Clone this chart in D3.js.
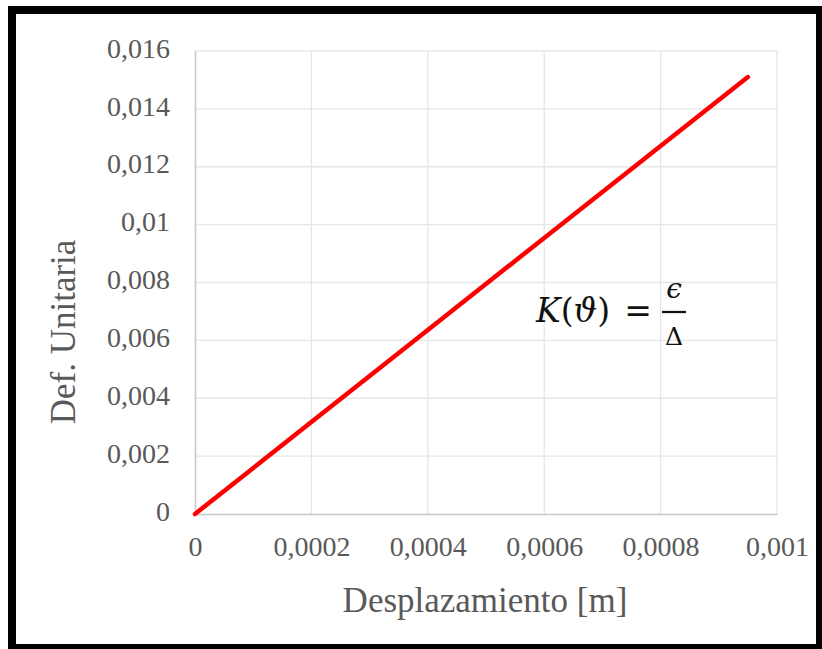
<!DOCTYPE html>
<html>
<head>
<meta charset="utf-8">
<script src="https://cdn.jsdelivr.net/npm/d3@7"></script>
<style>
  body { margin: 0; background: #fff; }
  svg { display: block; }
</style>
</head>
<body>
<svg id="chart" width="822" height="649"></svg>
<script>
// values
const desplazamiento = [0, 0.0002, 0.0004, 0.0006, 0.0008, 0.00095];
const defUnitaria = [0, 0.00318, 0.00636, 0.00954, 0.01272, 0.0151];
const xTicks = [0, 0.0002, 0.0004, 0.0006, 0.0008, 0.001];
const yTicks = [0, 0.002, 0.004, 0.006, 0.008, 0.01, 0.012, 0.014, 0.016];
const xTitle = "Desplazamiento [m]";
const yTitle = "Def. Unitaria";

const svg = d3.select("#chart");
const margin = {left: 195, right: 45, top: 51, bottom: 135};
const width = 822 - margin.left - margin.right;
const height = 649 - margin.top - margin.bottom;
const serif = "'Liberation Serif', 'Times New Roman', serif";
const grey = "#595959";

// comma decimals, like the original
const fmt = v => String(+v.toFixed(5)).replace(".", ",");

let x = d3.scaleLinear().domain([0, 0.001]).range([0, width]);
let y = d3.scaleLinear().domain([0, 0.016]).range([height, 0]);

const g = svg.append("g")
  .attr("transform", "translate(" + margin.left + "," + margin.top + ")");

// grid
g.append("g")
  .attr("class", "grid")
  .selectAll("line.h")
  .data(yTicks.slice(1))
  .enter().append("line")
  .attr("x1", 0).attr("x2", width)
  .attr("y1", d => y(d)).attr("y2", d => y(d))
  .attr("stroke", "#e6e6e6").attr("stroke-width", 1.3);

g.append("g")
  .attr("class", "grid")
  .selectAll("line.v")
  .data(xTicks.slice(1))
  .enter().append("line")
  .attr("x1", d => x(d)).attr("x2", d => x(d))
  .attr("y1", 0).attr("y2", height)
  .attr("stroke", "#e6e6e6").attr("stroke-width", 1.3);

// axes
let xAxis = d3.axisBottom(x).tickValues(xTicks).tickFormat(fmt).tickSize(0);
let yAxis = d3.axisLeft(y).tickValues(yTicks).tickFormat(fmt).tickSize(0);

const gx = g.append("g")
  .attr("class", "x axis")
  .attr("transform", "translate(0," + height + ")")
  .call(xAxis);
gx.select(".domain").attr("stroke", "#c8c8c8").attr("stroke-width", 1.6);
gx.selectAll("text")
  .attr("y", 42).attr("dy", 0)
  .style("font-family", serif).style("font-size", "28px").attr("fill", grey);

const gy = g.append("g")
  .attr("class", "y axis")
  .call(yAxis);
gy.select(".domain").attr("stroke", "#c8c8c8").attr("stroke-width", 1.6);
gy.selectAll("text")
  .attr("x", -25).attr("dy", "0.22em")
  .style("font-family", serif).style("font-size", "28px").attr("fill", grey);

// titles
svg.append("text")
  .attr("x", 485).attr("y", 612)
  .attr("text-anchor", "middle")
  .style("font-family", serif).style("font-size", "35px")
  .attr("fill", grey)
  .text(xTitle);

svg.append("text")
  .attr("transform", "translate(75,332) rotate(-90)")
  .attr("text-anchor", "middle")
  .style("font-family", serif).style("font-size", "35px")
  .attr("fill", grey)
  .text(yTitle);

// the line
const line = d3.line()
  .x((d, i) => x(desplazamiento[i]))
  .y(d => y(d));

g.append("path")
  .datum(defUnitaria)
  .attr("fill", "none")
  .attr("stroke", "#ff0000")
  .attr("stroke-width", 4.5)
  .attr("stroke-linecap", "round")
  .attr("d", line);

// formula  K(ϑ) = ε / Δ
const eq = svg.append("g").attr("class", "formula")
  .style("font-family", "'DejaVu Serif', serif").attr("fill", "#111");
eq.append("text")
  .attr("x", 536).attr("y", 322)
  .style("font-size", "33px")
  .html('<tspan font-style="italic">K</tspan>(<tspan font-style="italic">ϑ</tspan>)');
eq.append("text")
  .attr("x", 638).attr("y", 322)
  .attr("text-anchor", "middle")
  .style("font-size", "33px")
  .text("=");
eq.append("line")
  .attr("x1", 662).attr("x2", 686)
  .attr("y1", 312).attr("y2", 312)
  .attr("stroke", "#111").attr("stroke-width", 2.2);
eq.append("text")
  .attr("x", 674).attr("y", 298)
  .attr("text-anchor", "middle")
  .style("font-size", "28px").style("font-style", "italic")
  .text("ϵ");
eq.append("text")
  .attr("x", 674).attr("y", 345)
  .attr("text-anchor", "middle")
  .style("font-size", "25px")
  .text("Δ");

// black frame round the picture
svg.append("rect")
  .attr("x", 12).attr("y", 10)
  .attr("width", 808).attr("height", 638)
  .attr("fill", "none")
  .attr("stroke", "#000")
  .attr("stroke-width", 8);
</script>
</body>
</html>
